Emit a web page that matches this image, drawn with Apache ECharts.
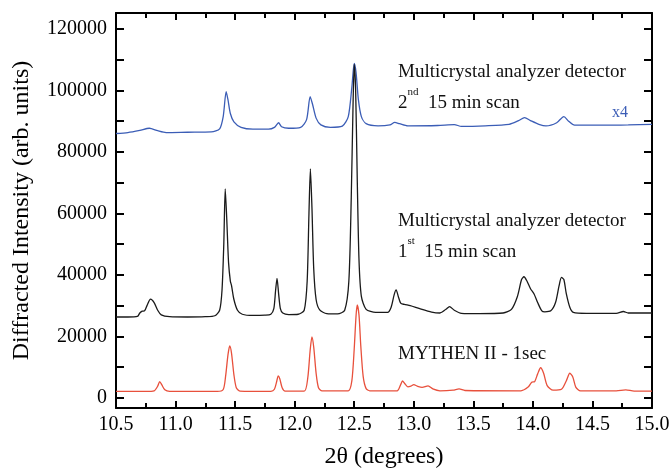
<!DOCTYPE html>
<html>
<head>
    <meta charset="UTF-8">
    <title>Diffraction scans</title>
    <script src="https://cdn.jsdelivr.net/npm/echarts@6/dist/echarts.min.js"></script>
    <style type="text/css">
        html, body {
            margin: 0;
            height: 100%;
            background: #fff;
        }
    </style>
</head>
<body>
<div id="main" style="width: 672px;height:469px;"></div>
<script>
    // 2nd 15 min scan (x4), blue
    var scan2X = [10.50, 10.60, 10.70, 10.78, 10.85, 10.92, 11.10, 11.30, 11.37, 11.40, 11.425, 11.44, 11.46, 11.49, 11.55, 11.65,
        11.78, 11.83, 11.865, 11.89, 11.95, 12.05, 12.10, 12.13, 12.15, 12.18, 12.22, 12.30, 12.40, 12.45, 12.48, 12.50,
        12.515, 12.535, 12.56, 12.60, 12.70, 12.80, 12.84, 12.88, 12.95, 13.20, 13.34, 13.40, 13.60, 13.80, 13.88, 13.93,
        13.98, 14.05, 14.11, 14.20, 14.26, 14.30, 14.35, 14.60, 14.80, 15.00];
    var scan2Y = [86000, 86300, 87000, 87700, 86900, 86300, 86400, 86500, 87500, 91500, 99600, 97000, 92500, 89800, 88000, 87400,
        87400, 88000, 89500, 88200, 87700, 88000, 90500, 98000, 95500, 91000, 88800, 88000, 88400, 91500, 101000, 108800,
        106000, 97000, 91500, 89200, 88500, 88800, 89600, 89200, 88500, 88600, 88900, 88300, 88500, 89000, 90200, 91150,
        90200, 89000, 88450, 89500, 91500, 90000, 88700, 88700, 88800, 89000];

    // 1st 15 min scan, black
    var scan1X = [10.50, 10.60, 10.68, 10.70, 10.72, 10.74, 10.76, 10.79, 10.82, 10.85, 10.88, 10.95, 11.10, 11.25, 11.33, 11.37,
        11.39, 11.405, 11.417, 11.43, 11.445, 11.46, 11.47, 11.49, 11.52, 11.56, 11.65, 11.75, 11.80, 11.825, 11.84, 11.852,
        11.865, 11.88, 11.90, 11.95, 12.03, 12.08, 12.105, 12.12, 12.132, 12.145, 12.16, 12.18, 12.21, 12.27, 12.36, 12.42,
        12.455, 12.475, 12.49, 12.50, 12.512, 12.525, 12.54, 12.56, 12.60, 12.68, 12.78, 12.81, 12.835, 12.852, 12.87, 12.89,
        12.92, 12.97, 13.05, 13.15, 13.22, 13.27, 13.30, 13.34, 13.40, 13.55, 13.75, 13.82, 13.87, 13.905, 13.925, 13.95,
        13.98, 14.01, 14.04, 14.075, 14.10, 14.15, 14.19, 14.22, 14.24, 14.26, 14.28, 14.31, 14.34, 14.45, 14.70, 14.76,
        14.80, 15.00];
    var scan1Y = [26300, 26300, 26500, 27600, 28200, 28300, 30000, 32100, 31000, 28500, 27000, 26400, 26300, 26400, 26700, 28500,
        35000, 50000, 68000, 58000, 44000, 38000, 36500, 32000, 28500, 27200, 26800, 26900, 27200, 29000, 35000, 38900,
        34000, 29000, 27600, 27100, 27200, 28500, 38000, 60000, 74500, 62000, 42000, 32000, 28600, 27400, 27300, 28500,
        38000, 65000, 95000, 108500, 100000, 72000, 45000, 33000, 28800, 27800, 27800, 29500, 33500, 35100, 33000, 30800,
        30400, 30000, 29000, 27900, 27600, 28800, 29700, 28500, 27500, 27400, 27600, 28800, 33000, 38500, 39400, 38000,
        35500, 33800, 31000, 28300, 28000, 28300, 31000, 36500, 39200, 38500, 34000, 29500, 27800, 27500, 27500, 28100,
        27600, 27600];

    // MYTHEN II - 1sec, red
    var mythenX = [10.50, 10.75, 10.82, 10.85, 10.867, 10.885, 10.91, 10.95, 11.35, 11.40, 11.42, 11.44, 11.455, 11.47, 11.49, 11.51,
        11.54, 11.80, 11.83, 11.85, 11.862, 11.875, 11.895, 11.92, 12.08, 12.11, 12.13, 12.145, 12.16, 12.18, 12.20, 12.23,
        12.45, 12.48, 12.50, 12.515, 12.525, 12.54, 12.555, 12.575, 12.60, 12.63, 12.86, 12.89, 12.905, 12.925, 12.95, 12.975,
        13.00, 13.03, 13.07, 13.12, 13.16, 13.22, 13.33, 13.38, 13.43, 13.90, 13.96, 13.99, 14.015, 14.04, 14.065, 14.09,
        14.12, 14.17, 14.24, 14.28, 14.31, 14.335, 14.36, 14.40, 14.70, 14.78, 14.85, 15.00];
    var mythenY = [2100, 2100, 2300, 3800, 5300, 4200, 2600, 2100, 2100, 2700, 7000, 14000, 16900, 14500, 7500, 3300,
        2200, 2100, 2800, 5500, 7150, 6200, 3300, 2200, 2200, 6500, 15500, 19800, 16500, 8000, 3300, 2300,
        2300, 5500, 16000, 26500, 30200, 27000, 17000, 7000, 3000, 2300, 2300, 4300, 5500, 4600, 3600, 3800,
        4300, 3800, 3400, 3900, 2900, 2300, 2500, 2900, 2400, 2300, 3500, 5100, 5300, 7800, 9800, 8000,
        4000, 2500, 2800, 5500, 8000, 6800, 3500, 2300, 2300, 2600, 2200, 2200];

    var yTicks = [0, 10000, 20000, 30000, 40000, 50000, 60000, 70000, 80000, 90000, 100000, 110000, 120000];
    var yLabels = [0, 20000, 40000, 60000, 80000, 100000, 120000];

    function zip(xs, ys) {
        var out = [];
        for (var i = 0; i < xs.length; i++) {
            out.push([xs[i], ys[i]]);
        }
        return out;
    }

    var serif = 'Liberation Serif';
    var chart = echarts.init(document.getElementById('main'));

    var baseX = {
        type: 'value',
        min: 10.5,
        max: 15.0,
        interval: 0.5,
        axisLine: {show: true, onZero: false, lineStyle: {color: '#000', width: 2}},
        axisTick: {show: true, inside: true, length: 7, lineStyle: {color: '#000', width: 2}},
        minorTick: {show: true, splitNumber: 2, length: 5, lineStyle: {color: '#000', width: 2}},
        splitLine: {show: false}
    };
    var baseY = {
        type: 'value',
        min: -3300,
        max: 125200,
        axisLine: {show: true, onZero: false, lineStyle: {color: '#000', width: 2}},
        axisTick: {show: true, inside: true, length: 8, customValues: yTicks, lineStyle: {color: '#000', width: 2}},
        splitLine: {show: false}
    };

    var option = {
        animation: false,
        backgroundColor: '#fff',
        grid: {left: 116, right: 20, top: 13, bottom: 61, containLabel: false, outerBoundsMode: 'none'},
        xAxis: [
            Object.assign({}, baseX, {
                position: 'bottom',
                name: '2θ (degrees)',
                nameLocation: 'middle',
                nameGap: 37,
                nameTextStyle: {fontFamily: serif, fontSize: 24, color: '#000'},
                axisLabel: {
                    margin: 7, fontFamily: serif, fontSize: 20, color: '#000',
                    formatter: function (v) { return v.toFixed(1); }
                }
            }),
            Object.assign({}, baseX, {position: 'top', axisLabel: {show: false}})
        ],
        yAxis: [
            Object.assign({}, baseY, {
                position: 'left',
                name: 'Diffracted Intensity (arb. units)',
                nameLocation: 'middle',
                nameGap: 82,
                nameTextStyle: {fontFamily: serif, fontSize: 24, color: '#000'},
                axisLabel: {
                    margin: 9, fontFamily: serif, fontSize: 20, color: '#000',
                    customValues: yLabels,
                    formatter: function (v) { return String(v); }
                }
            }),
            Object.assign({}, baseY, {position: 'right', axisLabel: {show: false}})
        ],
        series: [
            {
                name: '2nd scan', type: 'line', data: zip(scan2X, scan2Y), showSymbol: false,
                smooth: 0.25, lineStyle: {color: '#3b5db6', width: 1.3}
            },
            {
                name: '1st scan', type: 'line', data: zip(scan1X, scan1Y), showSymbol: false,
                smooth: 0.25, lineStyle: {color: '#1a1a1a', width: 1.3}
            },
            {
                name: 'MYTHEN', type: 'line', data: zip(mythenX, mythenY), showSymbol: false,
                smooth: 0.25, lineStyle: {color: '#e8503c', width: 1.3}
            }
        ],
        graphic: [
            {
                type: 'text', left: 398, top: 63,
                style: {text: 'Multicrystal analyzer detector', font: '19px "Liberation Serif"', fill: '#111'}
            },
            {
                type: 'text', left: 398, top: 87,
                style: {
                    text: '{n|2}{s|nd}{n|  15 min scan}',
                    fill: '#111',
                    rich: {
                        n: {fontFamily: serif, fontSize: 19, lineHeight: 26, verticalAlign: 'bottom'},
                        s: {fontFamily: serif, fontSize: 11, lineHeight: 26, verticalAlign: 'top'}
                    }
                }
            },
            {
                type: 'text', left: 612, top: 105,
                style: {text: 'x4', font: '16px "Liberation Serif"', fill: '#3b5db6'}
            },
            {
                type: 'text', left: 398, top: 212,
                style: {text: 'Multicrystal analyzer detector', font: '19px "Liberation Serif"', fill: '#111'}
            },
            {
                type: 'text', left: 398, top: 236,
                style: {
                    text: '{n|1}{s|st}{n|  15 min scan}',
                    fill: '#111',
                    rich: {
                        n: {fontFamily: serif, fontSize: 19, lineHeight: 26, verticalAlign: 'bottom'},
                        s: {fontFamily: serif, fontSize: 11, lineHeight: 26, verticalAlign: 'top'}
                    }
                }
            },
            {
                type: 'text', left: 398, top: 345,
                style: {text: 'MYTHEN II - 1sec', font: '19px "Liberation Serif"', fill: '#111'}
            }
        ]
    };

    chart.setOption(option);
</script>
</body>
</html>
